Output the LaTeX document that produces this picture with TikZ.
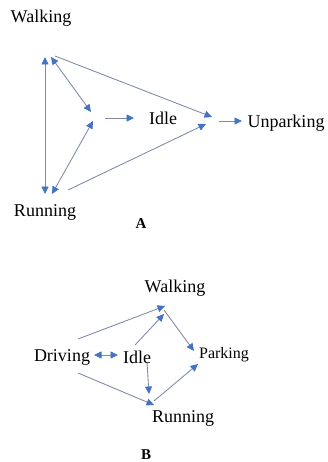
\documentclass[tikz,border=0pt]{standalone}
\usepackage{fontspec}
\setmainfont{Liberation Serif}
\usetikzlibrary{arrows.meta}
\definecolor{tipblue}{HTML}{4472C4}
\definecolor{linegray}{HTML}{7F89A6}
\tikzset{
  lbl/.style={inner sep=0pt, font=\fontsize{18}{20}\selectfont},
  smalllbl/.style={inner sep=0pt, font=\fontsize{16}{18}\selectfont},
  captxt/.style={inner sep=0pt, font=\fontsize{15}{17}\selectfont\bfseries},
  arr/.style={draw=linegray, line width=0.85pt, -{Triangle[length=7.5pt,width=7pt,color=tipblue]}},
  darr/.style={draw=linegray, line width=0.85pt, {Triangle[length=7.5pt,width=7pt,color=tipblue]}-{Triangle[length=7.5pt,width=7pt,color=tipblue]}}
}
\begin{document}
\begin{tikzpicture}[x=1pt,y=-1pt]
\useasboundingbox[fill=white] (0,0) rectangle (328,462);
% ---------- A ----------
\node[lbl] (wA) at (41,18) {Walking};
\node[lbl] (iA) at (163,118) {Idle};
\node[lbl] (uA) at (286,123) {Unparking};
\node[lbl] (rA) at (45,212) {Running};
\node[captxt] (capA) at (141,224) {A};
\coordinate (a1) at (45,57);
\coordinate (a2) at (45,194);
\coordinate (a3) at (51,57);
\coordinate (a4) at (91,112);
\coordinate (a5) at (55,56);
\coordinate (a6) at (212,117);
\coordinate (a7) at (105,118);
\coordinate (a8) at (134,118);
\coordinate (a9) at (219,121);
\coordinate (a10) at (242,121);
\coordinate (a11) at (52,194);
\coordinate (a12) at (93,121);
\coordinate (a13) at (68,190);
\coordinate (a14) at (206,124);
\draw[darr] (a1) -- (a2);
\draw[darr] (a3) -- (a4);
\draw[arr] (a5) -- (a6);
\draw[arr] (a7) -- (a8);
\draw[arr] (a9) -- (a10);
\draw[darr] (a11) -- (a12);
\draw[arr] (a13) -- (a14);
% ---------- B ----------
\node[lbl] (wB) at (175,288) {Walking};
\node[lbl] (dB) at (62,357) {Driving};
\node[lbl] (iB) at (137,357) {Idle};
\node[smalllbl] (pB) at (224,355) {Parking};
\node[lbl] (rB) at (183,418) {Running};
\node[captxt] (capB) at (146,455) {B};
\coordinate (b1) at (78,339);
\coordinate (b2) at (165,306);
\coordinate (b3) at (94,355);
\coordinate (b4) at (118,355);
\coordinate (b5) at (135,345);
\coordinate (b6) at (164,314);
\coordinate (b7) at (147,362);
\coordinate (b8) at (149,394);
\coordinate (b9) at (78,373);
\coordinate (b10) at (154,405);
\coordinate (b11) at (164,310);
\coordinate (b12) at (194,351);
\coordinate (b13) at (154,401);
\coordinate (b14) at (198,364);
\draw[arr] (b1) -- (b2);
\draw[darr] (b3) -- (b4);
\draw[arr] (b5) -- (b6);
\draw[arr] (b7) -- (b8);
\draw[arr] (b9) -- (b10);
\draw[arr] (b11) -- (b12);
\draw[arr] (b13) -- (b14);
\end{tikzpicture}
\end{document}
